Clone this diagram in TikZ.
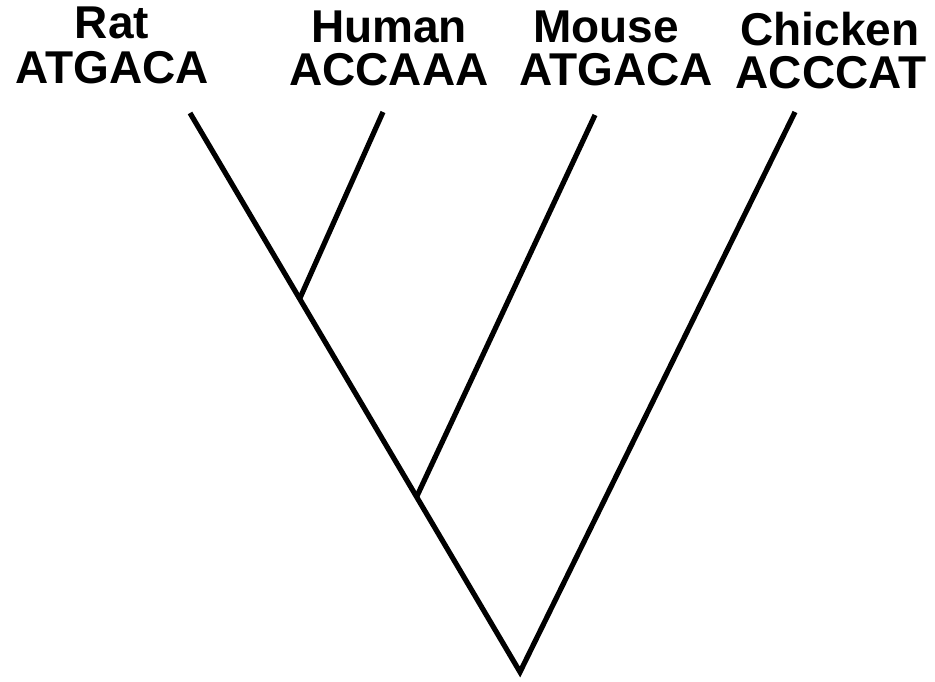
\documentclass[tikz,border=0pt]{standalone}
\usepackage{fontspec}
\setmainfont{Liberation Sans}
\usepackage{tikz}

\begin{document}
\begin{tikzpicture}[
 x=0.5pt, y=-0.5pt,
 taxon/.style={anchor=base, inner sep=0pt, font=\fontsize{23}{22}\selectfont\bfseries},
 branch/.style={line width=2.6pt, line join=miter}
]
\useasboundingbox (0,0) rectangle (935,681);

% leaf tips, inner nodes and root
\coordinate (rattip) at (190,113);
\coordinate (humantip) at (383,112);
\coordinate (mousetip) at (595,115);
\coordinate (chickentip) at (795,112);
\coordinate (ratHuman) at (300,298);
\coordinate (ratMouse) at (417,496);
\coordinate (root) at (520,672);

% taxon names and sequences
\node[taxon] (rat) at (112,38) {Rat};
\node[taxon] (ratseq) at (112,83) {ATGACA};
\node[taxon] (human) at (389,42) {Human};
\node[taxon] (humanseq) at (389,85) {ACCAAA};
\node[taxon] (mouse) at (606,42) {Mouse};
\node[taxon] (mouseseq) at (616,85) {ATGACA};
\node[taxon] (chicken) at (830,45) {Chicken};
\node[taxon] (chickenseq) at (831,88) {ACCCAT};

% branches
\draw[branch] (rattip) -- (root) -- (chickentip);
\draw[branch] (humantip) -- (ratHuman);
\draw[branch] (mousetip) -- (ratMouse);
\end{tikzpicture}
\end{document}
